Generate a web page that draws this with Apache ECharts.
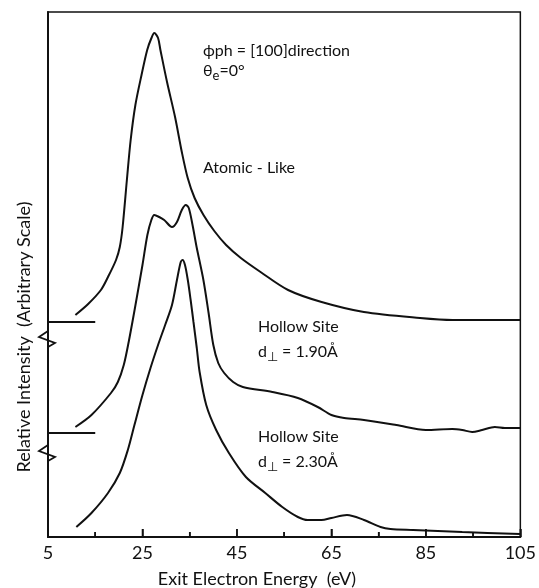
<!DOCTYPE html>
<html><head><meta charset="utf-8">
<script src="https://cdn.jsdelivr.net/npm/echarts@6/dist/echarts.min.js"></script>
<style>html,body{margin:0;padding:0;background:#fff}#c{width:539px;height:588px}</style>
</head><body><div id="c"></div>
<script>
// Exit electron energy (eV) and relative intensity (arbitrary, curves offset vertically)
const atomicE = [10.8,13.5,16.2,17.7,19.4,20.2,20.8,21.7,22.5,23.5,24.8,26.0,26.9,27.5,28.3,28.8,30.2,31.9,33.33,34.58,36.04,37.92,40.21,42.71,45.83,50.0,55.83,62.92,71.88,83.75,90.63,105];
const atomicI = [222,233,247,260,277,290,310,357,397,432,462,487,499,504,499,487,455,420,385,359,339,322,306,292,279,265,247,235,225,219,217,217];

const hollow190E = [10.8,14.2,18.33,19.79,21.04,22.08,23.33,25,26.04,26.88,27.5,28.54,29.6,31.25,32.3,33.33,34.17,34.8,35.6,36.46,37.9,39,40,41.04,42.3,44.2,46.25,52.5,57.9,62.1,65,67.7,71.9,78.75,85,90.6,92.7,94.8,96.9,99.6,101.7,105];
const hollow190I = [110,122,144,155,172,195,227,272,302,317,322,320,317,310,315,327,332,329,312,290,257,224,192,174,164,155,150,145,139,130,122,119,117,112,107,108,107,105,107,110,109,109];

const hollow230E = [11.0,14.2,17.7,20.2,21.9,23.3,25,26.7,28.3,29.8,31.25,32.3,33.1,33.5,34,34.6,35.2,35.8,36.5,37.1,38.5,40.6,43.3,46.9,51,54.6,57.9,60,62.9,65,68.3,71.9,75.4,77.5,82.3,92.7,105];
const hollow230I = [10,24,44,64,87,112,142,169,192,212,232,257,275,277,272,257,237,215,189,165,132,107,84,60,44,30,20,17,17,19,22,17,10,8,7,5,3];

const stubE = [5, 15];
const baselines = [215, 104];
const xTicks = [5, 25, 45, 65, 85, 105];
const xMinorTicks = [15, 35, 55, 75, 95];

const zip = (a, b) => a.map((v, i) => [v, b[i]]);
const ink = '#111';
const FONT = 'Lato';

const lineSeries = (data) => ({
  type: 'line', data, symbol: 'none', smooth: 0.3,
  lineStyle: { color: ink, width: 2 }, silent: true, animation: false
});

const chart = echarts.init(document.getElementById('c'), null, { renderer: 'canvas' });
chart.setOption({
  animation: false,
  backgroundColor: '#fff',
  grid: { left: 48, right: 11, top: 12, bottom: 51, show: true, backgroundColor: 'transparent', borderColor: ink, borderWidth: 1.5 },
  xAxis: {
    type: 'value', min: xTicks[0], max: xTicks[xTicks.length - 1], interval: 20,
    axisLine: { show: true, onZero: false, lineStyle: { color: ink, width: 2 } },
    axisTick: { show: true, inside: true, length: 8, lineStyle: { color: ink, width: 1.5 } },
    minorTick: { show: true, splitNumber: 2, length: 5, lineStyle: { color: ink, width: 1.5 } },
    splitLine: { show: false },
    axisLabel: { color: ink, fontSize: 18, fontFamily: FONT, margin: 7 }
  },
  yAxis: {
    type: 'value', min: 0, max: 525,
    axisLine: { show: true, lineStyle: { color: ink, width: 2 } },
    axisTick: { show: false }, axisLabel: { show: false }, splitLine: { show: false }
  },
  series: [
    lineSeries(zip(atomicE, atomicI)),
    lineSeries(zip(hollow190E, hollow190I)),
    lineSeries(zip(hollow230E, hollow230I)),
    Object.assign(lineSeries(stubE.map(e => [e, baselines[0]])), { smooth: false }),
    Object.assign(lineSeries(stubE.map(e => [e, baselines[1]])), { smooth: false })
  ]
});

const graphics = [];
const px = (x, y) => chart.convertToPixel({ xAxisIndex: 0, yAxisIndex: 0 }, [x, y]);

// inward x-axis ticks (major and minor), placed from the tick values through the axis
xTicks.forEach(t => {
  const p = px(t, 0);
  graphics.push({ type: 'line', z: 100, shape: { x1: p[0], y1: p[1], x2: p[0], y2: p[1] - 8 }, style: { stroke: ink, lineWidth: 1.5 } });
});
xMinorTicks.forEach(t => {
  const p = px(t, 0);
  graphics.push({ type: 'line', z: 100, shape: { x1: p[0], y1: p[1], x2: p[0], y2: p[1] - 5 }, style: { stroke: ink, lineWidth: 1.5 } });
});

// axis-break zigzags just below each baseline stub
const zig = [[0, 9], [-9, 15], [7, 21], [0, 25]];
baselines.forEach((b, k) => {
  const p = px(stubE[0], b);
  graphics.push({
    type: 'polyline', z: 100,
    shape: { points: zig.map(([dx, dy]) => [p[0] + dx, p[1] + dy + (k === 1 ? 3 : 0)]) },
    style: { stroke: ink, lineWidth: 1.8, fill: null }
  });
});

const txt = (x, y, rich, text) => ({
  type: 'text', x, y, z: 100,
  style: { text, fill: ink, fontFamily: FONT, fontSize: 16, verticalAlign: 'middle', rich }
});
const richSub = {
  a: { fontSize: 16, fontFamily: FONT, fill: ink },
  s: { fontSize: 13, fontFamily: FONT, fill: ink, padding: [9, 0, 0, 0] }
};
graphics.push(txt(203, 51, null, 'ϕph = [100]direction'));
graphics.push(txt(203, 71, richSub, '{a|θ}{s|e}{a|=0°}'));
graphics.push(txt(203, 168, null, 'Atomic - Like'));
graphics.push(txt(258, 327, null, 'Hollow Site'));
graphics.push(txt(258, 352, richSub, '{a|d}{s|⊥}{a| = 1.90Å}'));
graphics.push(txt(258, 437, null, 'Hollow Site'));
graphics.push(txt(258, 462, richSub, '{a|d}{s|⊥}{a| = 2.30Å}'));
graphics.push({
  type: 'text', x: 257, y: 579, z: 100,
  style: { text: 'Exit Electron Energy  (eV)', fill: ink, fontFamily: FONT, fontSize: 18, align: 'center', verticalAlign: 'middle' }
});
graphics.push({
  type: 'text', x: 24, y: 337, rotation: Math.PI / 2, z: 100,
  style: { text: 'Relative Intensity  (Arbitrary Scale)', fill: ink, fontFamily: FONT, fontSize: 18, align: 'center', verticalAlign: 'middle' }
});
chart.setOption({ graphic: graphics });
</script>
</body></html>
